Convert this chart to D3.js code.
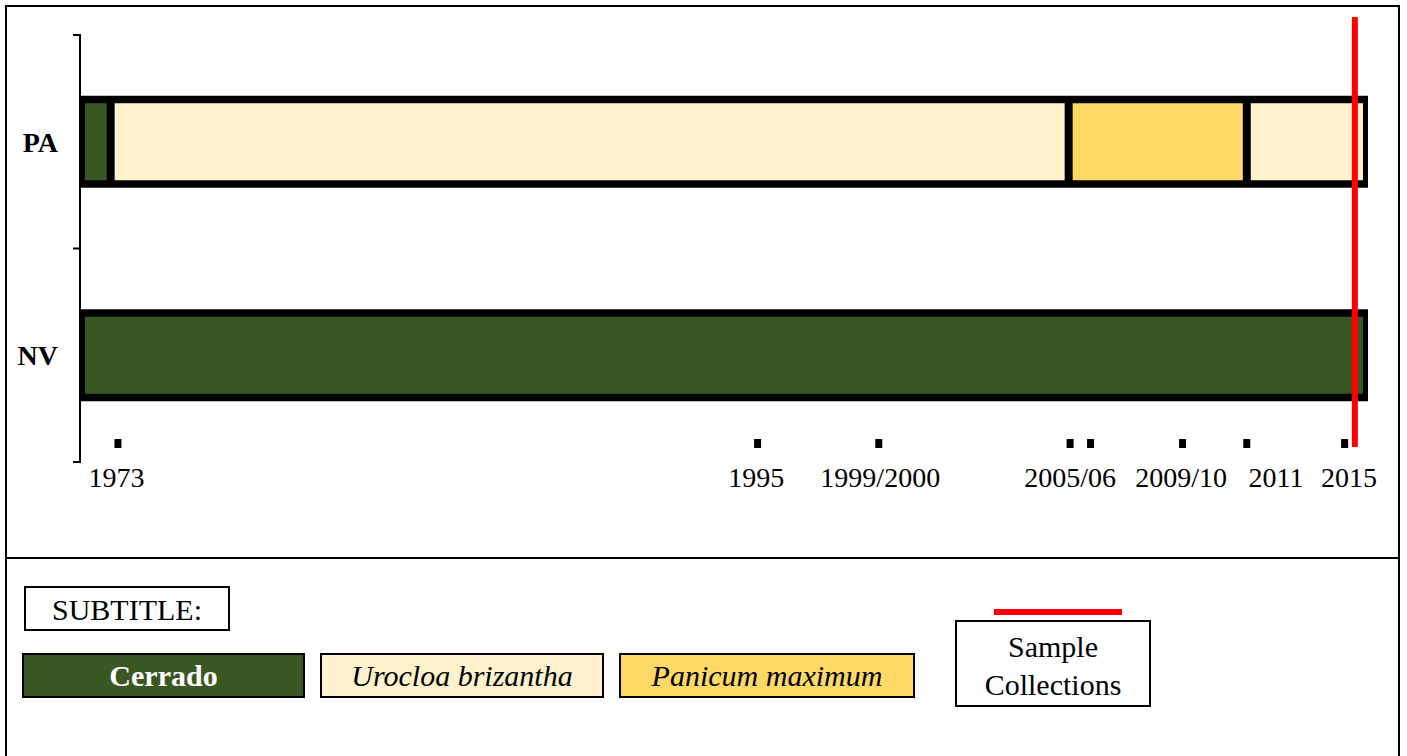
<!DOCTYPE html>
<html>
<head>
<meta charset="utf-8">
<script src="https://cdn.jsdelivr.net/npm/d3@7"></script>
<style>
  body { margin: 0; background: #fff; }
  svg { display: block; }
  text { font-family: "Liberation Serif", "Times New Roman", serif; }
</style>
</head>
<body>
<svg id="canvas" width="1407" height="756"></svg>
<script>
/** Data */
const rows = ['PA', 'NV'];
const yearStart = 1971.7;
const yearEnd = 2015.8;

const covers = ['Cerrado', 'Urocloa brizantha', 'Panicum maximum'];
const coverColors = ['#385723', '#FFF2CC', '#FFD966'];

const paBreaks = [1971.7, 1972.75, 2005.55, 2011.65, 2015.8];
const paCover = ['Cerrado', 'Urocloa brizantha', 'Panicum maximum', 'Urocloa brizantha'];
const nvBreaks = [1971.7, 2015.8];
const nvCover = ['Cerrado'];

const markerYears = [1973.0, 1994.9, 1999.05, 2005.6, 2006.3, 2009.45, 2011.65, 2015.0];
const tickLabels = ['1973', '1995', '1999/2000', '2005/06', '2009/10', '2011', '2015'];
const labelYears = [1972.95, 1994.85, 1999.1, 2005.6, 2009.4, 2012.65, 2015.15];
const sampleYear = 2015.35;

let canvas = d3.select('#canvas');

/** Scales */
const x = d3.scaleLinear().domain([yearStart, yearEnd]).range([80, 1368]);
const y = d3.scaleBand().domain(rows).range([35, 462]);
const color = d3.scaleOrdinal().domain(covers).range(coverColors);
const barH = 92;

/** Frame */
canvas.append('rect')
    .attr('x', 6).attr('y', 6)
    .attr('width', 1393).attr('height', 770)
    .attr('fill', 'none').attr('stroke', '#000').attr('stroke-width', 2);
canvas.append('line')
    .attr('x1', 6).attr('x2', 1399).attr('y1', 558).attr('y2', 558)
    .attr('stroke', '#000').attr('stroke-width', 2);

/** Bracket-style left axis */
const edges = [y.range()[0], y('NV'), y.range()[1]];
canvas.append('path')
    .attr('d', `M73,${edges[0]}H80V${edges[2]}H73`)
    .attr('fill', 'none').attr('stroke', '#000').attr('stroke-width', 2);
canvas.append('line')
    .attr('x1', 73).attr('x2', 80).attr('y1', edges[1]).attr('y2', edges[1])
    .attr('stroke', '#000').attr('stroke-width', 2);

canvas.selectAll('.row-label')
    .data(rows)
    .enter()
    .append('text')
    .attr('class', 'row-label')
    .attr('x', 58)
    .attr('y', (d) => y(d) + y.bandwidth() / 2 + 10)
    .attr('text-anchor', 'end')
    .attr('font-size', 28)
    .attr('font-weight', 'bold')
    .text((d) => d);

/** Bars */
const segments = (breaks, cover, row) => cover.map((c, i) => ({
    row: row, cover: c, from: breaks[i], to: breaks[i + 1],
    first: i === 0, last: i === cover.length - 1
}));
const barData = [segments(paBreaks, paCover, 'PA'), segments(nvBreaks, nvCover, 'NV')];

barData.forEach((segs) => {
    let row = segs[0].row;
    let top = y(row) + (y.bandwidth() - barH) / 2;
    let bar = canvas.append('g');

    bar.append('rect')
        .attr('x', x(yearStart)).attr('y', top)
        .attr('width', x(yearEnd) - x(yearStart)).attr('height', barH)
        .attr('fill', '#000');

    bar.selectAll('rect.seg')
        .data(segs)
        .enter()
        .append('rect')
        .attr('class', 'seg')
        .attr('x', (d) => x(d.from) + (d.first ? 5 : 4))
        .attr('y', top + 7.5)
        .attr('width', (d) => x(d.to) - x(d.from) - (d.first ? 5 : 4) - (d.last ? 5 : 4))
        .attr('height', barH - 15)
        .attr('fill', (d) => color(d.cover));
});

/** Year markers and labels */
canvas.selectAll('.marker')
    .data(markerYears)
    .enter()
    .append('rect')
    .attr('class', 'marker')
    .attr('x', (d) => x(d) - 3.5)
    .attr('y', 439)
    .attr('width', 7).attr('height', 9)
    .attr('fill', '#000');

canvas.selectAll('.year-label')
    .data(tickLabels)
    .enter()
    .append('text')
    .attr('class', 'year-label')
    .attr('x', (d, i) => x(labelYears[i]))
    .attr('y', 487)
    .attr('text-anchor', 'middle')
    .attr('font-size', 28)
    .text((d) => d);

/** Sample collection line */
canvas.append('line')
    .attr('x1', x(sampleYear)).attr('x2', x(sampleYear))
    .attr('y1', 17).attr('y2', 447)
    .attr('stroke', '#FF0000').attr('stroke-width', 6);

/** Legend */
canvas.append('rect')
    .attr('x', 25).attr('y', 587).attr('width', 204).attr('height', 43)
    .attr('fill', '#fff').attr('stroke', '#000').attr('stroke-width', 2);
canvas.append('text')
    .attr('x', 127).attr('y', 620)
    .attr('text-anchor', 'middle').attr('font-size', 30)
    .text('SUBTITLE:');

const legendX = [23, 321, 620];
const legendW = [281, 282, 294];
let item = canvas.selectAll('.legend-item')
    .data(covers)
    .enter()
    .append('g')
    .attr('class', 'legend-item')
    .attr('transform', (d, i) => `translate(${legendX[i]},654)`);

item.append('rect')
    .attr('width', (d, i) => legendW[i]).attr('height', 43)
    .attr('fill', (d) => color(d))
    .attr('stroke', '#000').attr('stroke-width', 2);

item.append('text')
    .attr('x', (d, i) => legendW[i] / 2)
    .attr('y', 32)
    .attr('text-anchor', 'middle')
    .attr('font-size', 30)
    .attr('font-weight', (d, i) => i === 0 ? 'bold' : 'normal')
    .attr('font-style', (d, i) => i === 0 ? 'normal' : 'italic')
    .attr('fill', (d, i) => i === 0 ? '#fff' : '#000')
    .text((d) => d);

canvas.append('line')
    .attr('x1', 994).attr('x2', 1122).attr('y1', 612).attr('y2', 612)
    .attr('stroke', '#FF0000').attr('stroke-width', 6);
canvas.append('rect')
    .attr('x', 956).attr('y', 621).attr('width', 194).attr('height', 85)
    .attr('fill', '#fff').attr('stroke', '#000').attr('stroke-width', 2);
canvas.append('text')
    .attr('x', 1053).attr('y', 657)
    .attr('text-anchor', 'middle').attr('font-size', 30)
    .text('Sample');
canvas.append('text')
    .attr('x', 1053).attr('y', 695)
    .attr('text-anchor', 'middle').attr('font-size', 30)
    .text('Collections');
</script>
</body>
</html>
